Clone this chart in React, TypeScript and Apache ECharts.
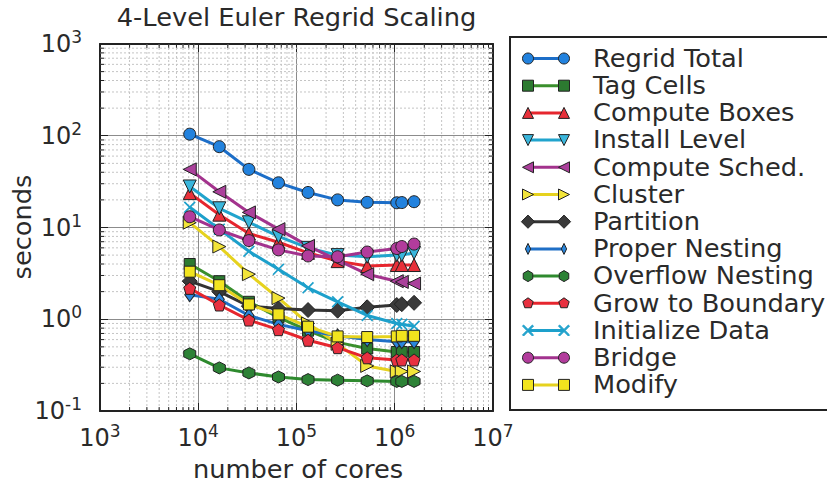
import React, { useEffect, useRef } from "react";
import * as echarts from "echarts";

const FONT = '"DejaVu Sans", "Liberation Sans", sans-serif';
const INK = "#2a2a2a";
const TEXT_STRETCH = 1.07;

// Core counts shared by every timing series
const cores = [8192, 16384, 32768, 65536, 131072, 262144, 524288, 1048576, 1179648, 1572864];

// Seconds spent in each phase of the regrid
const regridTotal = [104, 76, 43, 30.7, 24.1, 20, 18.8, 18.6, 18.7, 19.1];
const tagCells = [4.0, 2.6, 1.55, 1.05, 0.75, 0.56, 0.48, 0.44, 0.44, 0.44];
const computeBoxes = [23.7, 13.8, 8.6, 6.9, 5.3, 4.3, 3.8, 3.9, 3.9, 3.9];
const installLevel = [28, 16.2, 11.4, 8.0, 6.0, 5.0, 4.8, 5.0, 5.0, 5.3];
const computeSched = [43, 24.5, 14.6, 9.6, 6.3, 4.4, 3.1, 2.6, 2.55, 2.45];
const cluster = [11.3, 6.2, 3.1, 1.7, 0.9, 0.54, 0.31, 0.27, 0.27, 0.27];
const partition = [2.6, 2.0, 1.39, 1.31, 1.26, 1.24, 1.35, 1.43, 1.46, 1.51];
const properNesting = [1.85, 1.65, 1.1, 0.88, 0.75, 0.66, 0.6, 0.57, 0.57, 0.57];
const overflowNesting = [0.42, 0.295, 0.26, 0.235, 0.22, 0.217, 0.213, 0.21, 0.21, 0.21];
const growToBoundary = [2.17, 1.43, 0.98, 0.77, 0.59, 0.49, 0.38, 0.36, 0.36, 0.36];
const initializeData = [16.6, 9.6, 5.5, 3.5, 2.2, 1.55, 1.1, 0.9, 0.88, 0.84];
const bridge = [13.1, 9.4, 7.2, 5.7, 4.9, 4.8, 5.4, 5.9, 6.2, 6.6];
const modify = [3.3, 2.35, 1.45, 1.13, 0.83, 0.65, 0.64, 0.65, 0.66, 0.66];

// Axis ranges (decades)
const xDecades = [3, 4, 5, 6, 7];
const yDecades = [-1, 0, 1, 2, 3];

type Pt = [number, number];

function regular(n: number, rot: number): Pt[] {
  const pts: Pt[] = [];
  for (let k = 0; k < n; k++) {
    const a = rot + (2 * Math.PI * k) / n;
    pts.push([0.5 + 0.5 * Math.cos(a), 0.5 + 0.5 * Math.sin(a)]);
  }
  return pts;
}

function crossShape(w: number): Pt[] {
  return [
    [0, w], [w, 0], [0.5, 0.5 - w], [1 - w, 0], [1, w], [0.5 + w, 0.5],
    [1, 1 - w], [1 - w, 1], [0.5, 0.5 + w], [w, 1], [0, 1 - w], [0.5 - w, 0.5],
  ];
}

const SHAPES: Record<string, Pt[]> = {
  square: [[0, 0], [1, 0], [1, 1], [0, 1]],
  up: [[0.5, 0], [1, 1], [0, 1]],
  down: [[0, 0], [1, 0], [0.5, 1]],
  left: [[0, 0.5], [1, 0], [1, 1]],
  right: [[0, 0], [1, 0.5], [0, 1]],
  diamond: [[0.5, 0], [1, 0.5], [0.5, 1], [0, 0.5]],
  thinDiamond: [[0.5, 0], [0.82, 0.5], [0.5, 1], [0.18, 0.5]],
  pentagon: regular(5, -Math.PI / 2),
  hexagon: regular(6, -Math.PI / 2),
  x: crossShape(0.1),
};

function symbolPath(marker: string): string {
  if (marker === "circle") return "circle";
  const pts = SHAPES[marker];
  return (
    "path://" +
    pts.map((p, i) => `${i === 0 ? "M" : "L"}${(p[0] * 100).toFixed(2)} ${(p[1] * 100).toFixed(2)}`).join(" ") +
    " Z"
  );
}

interface SeriesStyle {
  name: string;
  values: number[];
  line: string;
  fill: string;
  marker: string;
  size: number | number[];
  edge: boolean;
}

const seriesList: SeriesStyle[] = [
  { name: "Regrid Total", values: regridTotal, line: "#1c6ec8", fill: "#2282de", marker: "circle", size: 12, edge: true },
  { name: "Tag Cells", values: tagCells, line: "#3a8f2c", fill: "#2c7a30", marker: "square", size: 11, edge: true },
  { name: "Compute Boxes", values: computeBoxes, line: "#e6262e", fill: "#e8303a", marker: "up", size: 13, edge: true },
  { name: "Install Level", values: installLevel, line: "#21a4cd", fill: "#3ab6dc", marker: "down", size: 13, edge: true },
  { name: "Compute Sched.", values: computeSched, line: "#a3338d", fill: "#ab409b", marker: "left", size: 13, edge: true },
  { name: "Cluster", values: cluster, line: "#e6d21e", fill: "#f2e43a", marker: "right", size: 13, edge: true },
  { name: "Partition", values: partition, line: "#333333", fill: "#3a3a3a", marker: "diamond", size: 15, edge: true },
  { name: "Proper Nesting", values: properNesting, line: "#1f6fc6", fill: "#2a86dc", marker: "thinDiamond", size: [10, 14], edge: true },
  { name: "Overflow Nesting", values: overflowNesting, line: "#2e8a2e", fill: "#2d8236", marker: "hexagon", size: 12, edge: true },
  { name: "Grow to Boundary", values: growToBoundary, line: "#e6262e", fill: "#e83040", marker: "pentagon", size: 12, edge: true },
  { name: "Initialize Data", values: initializeData, line: "#1da0cb", fill: "#1da0cb", marker: "x", size: 12, edge: false },
  { name: "Bridge", values: bridge, line: "#a2338e", fill: "#b23c9c", marker: "circle", size: 12, edge: true },
  { name: "Modify", values: modify, line: "#e6d21e", fill: "#f2e41e", marker: "square", size: 11, edge: true },
];

const xMinor: number[] = [];
for (let e = xDecades[0]; e < xDecades[xDecades.length - 1]; e++)
  for (let m = 2; m <= 9; m++) xMinor.push(m * Math.pow(10, e));
const yMinor: number[] = [];
for (let e = yDecades[0]; e < yDecades[yDecades.length - 1]; e++)
  for (let m = 2; m <= 9; m++) yMinor.push(m * Math.pow(10, e));

const X_MIN = Math.pow(10, xDecades[0]);
const X_MAX = Math.pow(10, xDecades[xDecades.length - 1]);
const Y_MIN = Math.pow(10, yDecades[0]);
const Y_MAX = Math.pow(10, yDecades[yDecades.length - 1]);

const MINOR_STYLE = { stroke: "#c4c4c4", lineWidth: 1, lineDash: [2, 2] };
const TICK_STYLE = { stroke: "#222", lineWidth: 1 };

function legendMarker(marker: string, cx: number, cy: number, s: number, fill: string, edge: boolean) {
  const stroke = edge ? "#222" : fill;
  if (marker === "circle") {
    return { type: "circle", shape: { cx, cy, r: s / 2 }, style: { fill, stroke, lineWidth: 1 } };
  }
  const pts = SHAPES[marker];
  let w = s;
  let h = s;
  if (marker === "thinDiamond") w = s * 0.75;
  if (marker === "diamond") { w = s * 1.2; h = s * 1.2; }
  return {
    type: "polygon",
    shape: { points: pts.map((p) => [cx + (p[0] - 0.5) * w, cy + (p[1] - 0.5) * h]) },
    style: { fill, stroke, lineWidth: 1 },
  };
}

function label(text: string, x: number, y: number, align: string, extra: any = {}) {
  return {
    type: "text",
    x,
    y,
    scaleX: TEXT_STRETCH,
    z: 50,
    ...extra,
    style: { text, font: `24px ${FONT}`, fill: INK, textAlign: align, textVerticalAlign: "middle" },
  };
}

function buildLegend() {
  const els: any[] = [
    { type: "rect", shape: { x: 510, y: 37, width: 330, height: 373 }, style: { fill: "#fff", stroke: "#222", lineWidth: 2 } },
  ];
  seriesList.forEach((s, i) => {
    const y = 58.5 + 27.2 * i;
    els.push({ type: "line", shape: { x1: 528, y1: y, x2: 564, y2: y }, style: { stroke: s.line, lineWidth: 3 } });
    els.push(legendMarker(s.marker, 528, y, 11, s.fill, s.edge));
    els.push(legendMarker(s.marker, 564, y, 11, s.fill, s.edge));
    els.push(label(s.name, 593, y, "left"));
  });
  return els;
}

const powerLabel = (v: number) => `{b|10}{s|${Math.round(Math.log10(v))}}`;
const labelRich = {
  b: { fontSize: 24, fontFamily: FONT, color: INK },
  s: { fontSize: 17, fontFamily: FONT, color: INK, padding: [0, 0, 14, 0] },
};

export default function App() {
  const ref = useRef<HTMLDivElement>(null);

  useEffect(() => {
    if (!ref.current) return;
    const chart = echarts.init(ref.current, undefined, { renderer: "svg" });

    const lineSeries = seriesList.map((s) => ({
      type: "line",
      name: s.name,
      data: cores.map((c, i) => [c, s.values[i]]),
      symbol: symbolPath(s.marker),
      symbolSize: s.size,
      showSymbol: true,
      lineStyle: { color: s.line, width: 3 },
      itemStyle: { color: s.fill, borderColor: s.edge ? "#222" : s.fill, borderWidth: s.edge ? 1 : 0 },
      z: 3,
      emphasis: { disabled: true },
    }));

    const frameAxis = {
      axisLine: { show: true, lineStyle: { color: "#222", width: 2 } },
      axisTick: { show: true, inside: true, length: 8, lineStyle: { color: "#222", width: 1 } },
    };

    const option: any = {
      animation: false,
      backgroundColor: "#fff",
      grid: { left: 100, top: 44, width: 393, height: 367 },
      xAxis: [
        {
          type: "log",
          logBase: 10,
          min: X_MIN,
          max: X_MAX,
          position: "bottom",
          ...frameAxis,
          axisLabel: { margin: 11, formatter: powerLabel, rich: labelRich },
          splitLine: { show: true, lineStyle: { color: "#8c8c8c", width: 1 } },
        },
        {
          type: "log",
          logBase: 10,
          min: X_MIN,
          max: X_MAX,
          position: "top",
          ...frameAxis,
          axisLabel: { show: false },
          splitLine: { show: false },
        },
      ],
      yAxis: [
        {
          type: "log",
          logBase: 10,
          min: Y_MIN,
          max: Y_MAX,
          position: "left",
          ...frameAxis,
          axisLabel: { margin: 18, formatter: powerLabel, rich: labelRich },
          splitLine: { show: true, lineStyle: { color: "#8c8c8c", width: 1 } },
        },
        {
          type: "log",
          logBase: 10,
          min: Y_MIN,
          max: Y_MAX,
          position: "right",
          ...frameAxis,
          axisLabel: { show: false },
          splitLine: { show: false },
        },
      ],
      series: [
        {
          type: "custom",
          name: "minor-x",
          coordinateSystem: "cartesian2d",
          silent: true,
          z: 1,
          data: xMinor.map((v) => [v, 1]),
          renderItem: (_p: any, api: any) => {
            const v = api.value(0);
            const top = api.coord([v, Y_MAX]);
            const bot = api.coord([v, Y_MIN]);
            return {
              type: "group",
              children: [
                { type: "line", shape: { x1: top[0], y1: top[1], x2: bot[0], y2: bot[1] }, style: MINOR_STYLE },
                { type: "line", shape: { x1: bot[0], y1: bot[1], x2: bot[0], y2: bot[1] - 4 }, style: TICK_STYLE },
                { type: "line", shape: { x1: top[0], y1: top[1], x2: top[0], y2: top[1] + 4 }, style: TICK_STYLE },
              ],
            };
          },
        },
        {
          type: "custom",
          name: "minor-y",
          coordinateSystem: "cartesian2d",
          silent: true,
          z: 1,
          data: yMinor.map((v) => [1e4, v]),
          renderItem: (_p: any, api: any) => {
            const v = api.value(1);
            const l = api.coord([X_MIN, v]);
            const r = api.coord([X_MAX, v]);
            return {
              type: "group",
              children: [
                { type: "line", shape: { x1: l[0], y1: l[1], x2: r[0], y2: r[1] }, style: MINOR_STYLE },
                { type: "line", shape: { x1: l[0], y1: l[1], x2: l[0] + 4, y2: l[1] }, style: TICK_STYLE },
                { type: "line", shape: { x1: r[0], y1: r[1], x2: r[0] - 4, y2: r[1] }, style: TICK_STYLE },
              ],
            };
          },
        },
        ...lineSeries,
      ],
      graphic: [
        label("4-Level Euler Regrid Scaling", 296.5, 18, "center"),
        label("number of cores", 298, 470, "center"),
        label("seconds", 23, 227, "center", { rotation: Math.PI / 2 }),
        { type: "group", z: 60, children: buildLegend() },
      ],
    };

    chart.setOption(option);
    return () => chart.dispose();
  }, []);

  return <div ref={ref} style={{ position: "absolute", left: 0, top: 0, width: 827, height: 485 }} />;
}
